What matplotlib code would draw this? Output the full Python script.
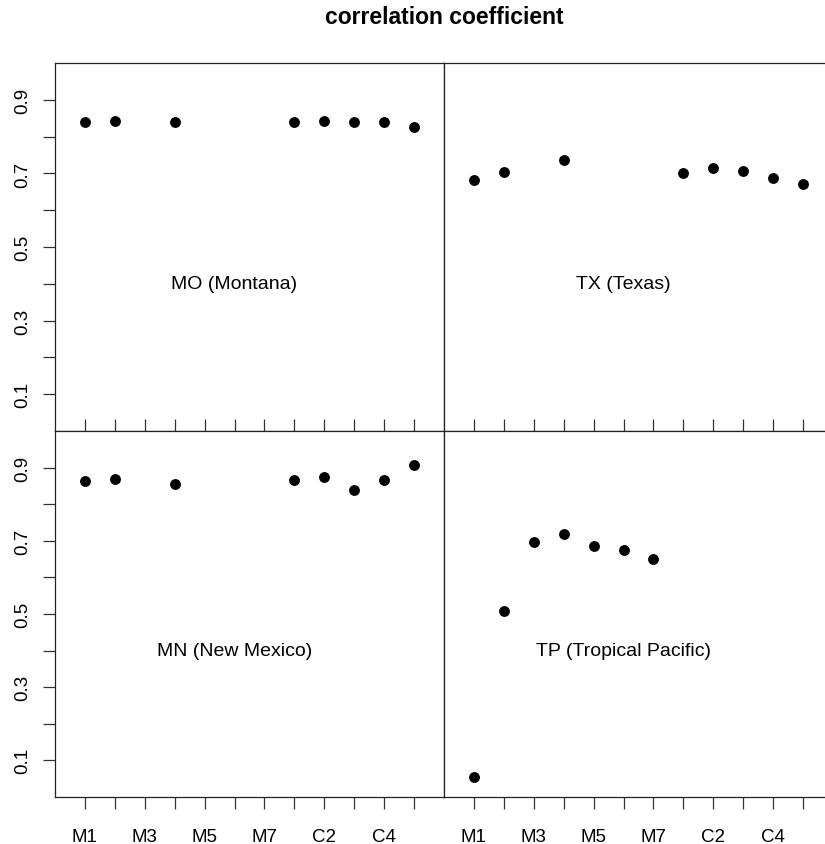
import numpy as np
import matplotlib
matplotlib.use("Agg")
import matplotlib.pyplot as plt

plt.rcParams["font.family"] = ["Liberation Sans", "DejaVu Sans"]

# data
categories = ["M1", "M2", "M3", "M4", "M5", "M6", "M7", "C1", "C2", "C3", "C4", "C5"]
shown_labels = ["M1", "", "M3", "", "M5", "", "M7", "", "C2", "", "C4", ""]
nan = np.nan
mo = [0.840, 0.842, nan, 0.839, nan, nan, nan, 0.840, 0.842, 0.841, 0.841, 0.827]
tx = [0.681, 0.705, nan, 0.736, nan, nan, nan, 0.701, 0.715, 0.707, 0.688, 0.672]
mn = [0.863, 0.870, nan, 0.856, nan, nan, nan, 0.866, 0.873, 0.840, 0.867, 0.906]
tp = [0.054, 0.507, 0.696, 0.718, 0.687, 0.674, 0.651, nan, nan, nan, nan, nan]
panel_names = ["MO (Montana)", "TX (Texas)", "MN (New Mexico)", "TP (Tropical Pacific)"]
y_ticks = [0.1, 0.2, 0.3, 0.4, 0.5, 0.6, 0.7, 0.8, 0.9]
y_labels = ["0.1", "", "0.3", "", "0.5", "", "0.7", "", "0.9"]

fig = plt.figure(figsize=(8.25, 8.45), dpi=100)
W, H = 825.0, 845.0
pw = 389.0
# panel boxes in pixels: left x, top y, bottom y (right column runs off the edge)
boxes = [(55, 64, 432), (444, 64, 432), (55, 432, 798), (444, 432, 798)]
series = [mo, tx, mn, tp]
x = np.arange(1, len(categories) + 1)

for i, ((x0, ytop, ybot), vals, name) in enumerate(zip(boxes, series, panel_names)):
    ax = fig.add_axes([x0 / W, (H - ybot) / H, pw / W, (ybot - ytop) / H])
    ax.plot(x, vals, "o", color="black", markersize=6.8, linestyle="none")
    ax.set_xlim(0, 13)
    ax.set_ylim(0, 1)
    ax.text(6, 0.4, name, ha="center", va="center", fontsize=14)
    for sp in ax.spines.values():
        sp.set_linewidth(0.9)
        sp.set_color("#222222")
    ax.set_xticks(x)
    ax.set_yticks(y_ticks)
    top_row = i < 2
    left_col = i % 2 == 0
    if top_row:
        ax.tick_params(axis="x", direction="in", length=8.5, width=0.9,
                       labelbottom=False, color="#333333")
    else:
        ax.set_xticklabels(shown_labels)
        ax.tick_params(axis="x", direction="out", length=8.5, width=0.9,
                       pad=13.5, labelsize=13.5, color="#333333")
    if left_col:
        ax.set_yticklabels(y_labels, rotation=90, va="center")
        ax.tick_params(axis="y", direction="out", length=8.5, width=0.9,
                       pad=8.5, labelsize=13.5, color="#333333")
    else:
        ax.tick_params(axis="y", left=False, labelleft=False)

fig.text(444 / W, 1 - 18 / H, "correlation coefficient", ha="center", va="center",
         fontsize=16.5, fontweight="bold")

fig.savefig("out.png", dpi=100)
